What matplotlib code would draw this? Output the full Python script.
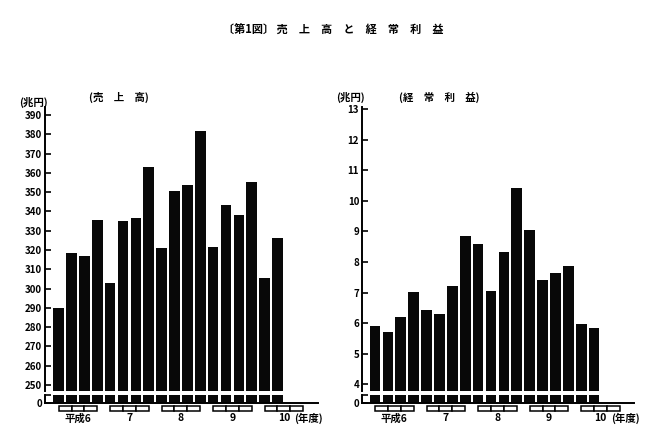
import matplotlib
matplotlib.use("Agg")
import matplotlib.pyplot as plt
from matplotlib.patches import Rectangle

plt.rcParams['font.family'] = ['Noto Sans CJK JP', 'DejaVu Sans']
plt.rcParams['font.weight'] = 'bold'

# quarterly values, FY Heisei 6 Q1 .. Heisei 10 Q2
sales = [290, 318.5, 317, 335.5, 303, 335, 336.5, 363, 321, 350.5,
         353.5, 381.5, 321.5, 343.5, 338, 355.5, 305.5, 326.5]
profit = [5.9, 5.72, 6.19, 7.02, 6.44, 6.31, 7.21, 8.85, 8.58, 7.05,
          8.33, 10.42, 9.04, 7.42, 7.65, 7.87, 5.98, 5.85]
years = ['平成6', '7', '8', '9', '10']
sales_ticks = list(range(250, 391, 10))
profit_ticks = list(range(4, 14))

W, H = 667, 445
fig = plt.figure(figsize=(W / 100, H / 100), dpi=100)


def box(l, r, t, b):
    return [l / W, 1 - b / H, (r - l) / W, (b - t) / H]


def panel(vals, left, right, top, ylim, ticks, xlim, title, title_x, unit_y):
    up = fig.add_axes(box(left, right, top, 391))
    lo = fig.add_axes(box(left, right, 395, 403.3))
    x = list(range(len(vals)))
    for ax in (up, lo):
        ax.bar(x, vals, width=0.83, color='#080808')
        ax.set_xlim(*xlim)
        ax.set_xticks([])
        for s in ('top', 'right'):
            ax.spines[s].set_visible(False)
        ax.spines['left'].set_linewidth(1.4)
    up.spines['bottom'].set_visible(False)
    up.set_ylim(*ylim)
    up.set_yticks(ticks)
    up.tick_params(axis='y', direction='in', length=4, width=1.2,
                   labelsize=7, pad=2)
    lo.set_ylim(0, 1)
    lo.set_yticks([0, 1])
    lo.set_yticklabels(['0', ''])
    lo.tick_params(axis='y', direction='in', length=4, width=1.2,
                   labelsize=7, pad=2)
    lo.spines['bottom'].set_linewidth(1.4)
    tr = lo.get_xaxis_transform()
    for k, yl in enumerate(years):
        for j in range(3):
            lo.add_patch(Rectangle((4 * k + j, -0.95), 1, 0.6, transform=tr,
                                   facecolor='white', edgecolor='black',
                                   linewidth=1.1, clip_on=False))
        lo.text(4 * k + 1.5, -1.8, yl, transform=tr, ha='center',
                va='center', fontsize=7.5, fontweight='bold')
    lo.text(4 * 4 + 2.3, -1.8, '(年度)', transform=tr, ha='left',
            va='center', fontsize=7.5, fontweight='bold')
    fig.text((left + 3) / W, 1 - unit_y / H, '(兆円)', ha='right',
             va='center', fontsize=7.5, fontweight='bold')
    fig.text(title_x / W, 1 - 97 / H, title, ha='center', va='center',
             fontsize=7.5, fontweight='bold')


panel(sales, 45, 318, 107, (246.9, 394.2), sales_ticks, (-1.06, 20.15),
      '(売　上　高)', 119, 102)
panel(profit, 362, 634, 107, (3.78, 13.07), profit_ticks, (-1.01, 20.1),
      '(経　常　利　益)', 439, 97)

fig.text(0.5, 1 - 30 / H, '〔第1図〕 売　上　高　と　経　常　利　益',
         ha='center', va='center', fontsize=8, fontweight='bold')

fig.savefig('out.png', dpi=100, facecolor='white')
